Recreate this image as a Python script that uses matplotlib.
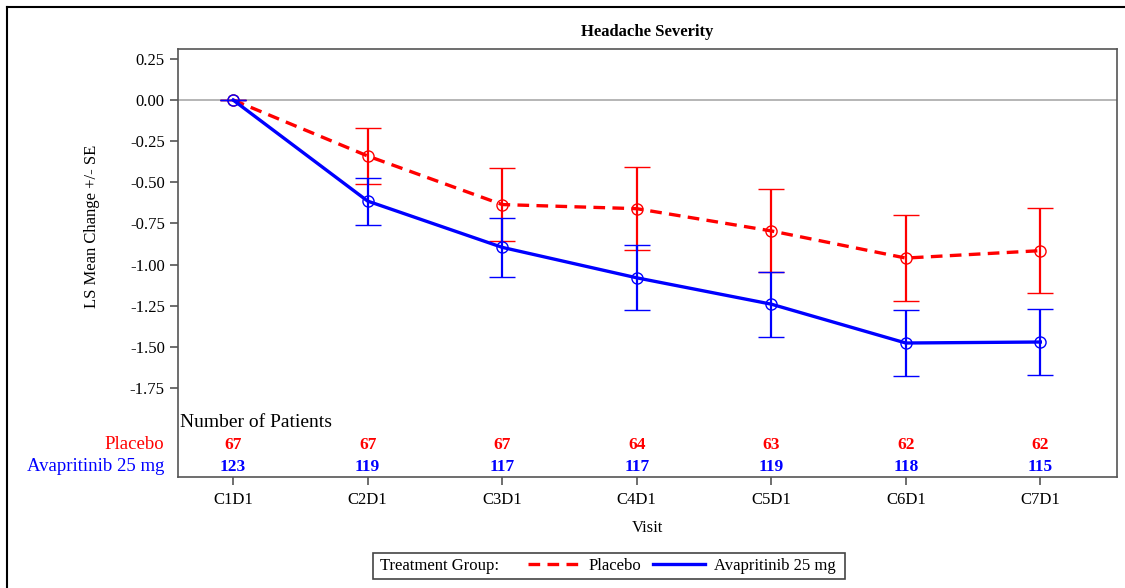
import matplotlib
matplotlib.use('Agg')
import matplotlib.pyplot as plt
import matplotlib.transforms as mtransforms
from matplotlib.lines import Line2D
from matplotlib.patches import Rectangle

plt.rcParams['font.family'] = ['Liberation Serif', 'DejaVu Serif']

# data
visits = ['C1D1', 'C2D1', 'C3D1', 'C4D1', 'C5D1', 'C6D1', 'C7D1']
placebo_mean = [0.0, -0.34, -0.635, -0.66, -0.795, -0.96, -0.915]
placebo_se = [0.0, 0.173, 0.222, 0.251, 0.252, 0.26, 0.258]
ava_mean = [0.0, -0.614, -0.895, -1.08, -1.24, -1.476, -1.47]
ava_se = [0.0, 0.143, 0.18, 0.198, 0.197, 0.2, 0.2]
placebo_n = [67, 67, 67, 64, 63, 62, 62]
ava_n = [123, 119, 117, 117, 119, 118, 115]
yticks = [0.25, 0.0, -0.25, -0.5, -0.75, -1.0, -1.25, -1.5, -1.75]

RED = '#ff0000'
BLUE = '#0000ff'
SPINE = '#555555'

fig = plt.figure(figsize=(11.25, 5.88), dpi=100)
ax = fig.add_axes([178 / 1125, 1 - 477 / 588, 939 / 1125, 428 / 588])

x = list(range(len(visits)))

ax.axhline(0, color='#b0b0b0', lw=1.3, zorder=1)

ax.errorbar(x, placebo_mean, yerr=placebo_se, color=RED, lw=2.4, ls=(0, (3.5, 2.2)),
            marker='o', ms=8, mfc='none', mec=RED, mew=1.0,
            ecolor=RED, elinewidth=1.6, capsize=9.5, capthick=1.9, zorder=3)
ax.errorbar(x, ava_mean, yerr=ava_se, color=BLUE, lw=2.4, ls='-',
            marker='o', ms=8, mfc='none', mec=BLUE, mew=1.0,
            ecolor=BLUE, elinewidth=1.6, capsize=9.5, capthick=1.9, zorder=4)

ax.set_xlim(-0.41, 6.57)
ax.set_ylim(-2.29, 0.31)
ax.set_xticks(x)
ax.set_xticklabels(visits)
ax.set_yticks(yticks)
ax.set_yticklabels([f'{v:.2f}' for v in yticks])
ax.tick_params(axis='both', labelsize=12, color=SPINE, width=1.2, direction='out')
ax.tick_params(axis='y', length=6, pad=3.5)
ax.tick_params(axis='x', length=5.5, pad=5)
for s in ax.spines.values():
    s.set_color(SPINE)
    s.set_linewidth(1.2)

ax.set_title('Headache Severity', fontsize=12, fontweight='bold', pad=9)
ax.set_ylabel('LS Mean Change +/- SE', fontsize=12)
ax.yaxis.set_label_coords(-0.083, 0.586)
ax.set_xlabel('Visit', fontsize=12)
ax.xaxis.set_label_coords(0.5, -0.1)

# number of patients table inside the axes
trans = mtransforms.blended_transform_factory(ax.transData, ax.transAxes)
ax.text(0.002, 0.128, 'Number of Patients', transform=ax.transAxes,
        fontsize=14, ha='left', va='center')
ax.text(-0.0149, 0.0748, 'Placebo', transform=ax.transAxes, color=RED,
        fontsize=13.5, ha='right', va='center')
ax.text(-0.0149, 0.0234, 'Avapritinib 25 mg', transform=ax.transAxes, color=BLUE,
        fontsize=13.5, ha='right', va='center')
for xi, n1, n2 in zip(x, placebo_n, ava_n):
    ax.text(xi, 0.0748, str(n1), transform=trans, color=RED, fontsize=12.5,
            fontweight='bold', ha='center', va='center')
    ax.text(xi, 0.0234, str(n2), transform=trans, color=BLUE, fontsize=12.5,
            fontweight='bold', ha='center', va='center')

# legend: frame, label, and entries
fig.patches.append(Rectangle((373 / 1125, 1 - 579 / 588), (845 - 373) / 1125, 26 / 588,
                             transform=fig.transFigure, fill=False,
                             edgecolor='#444444', lw=1.2))
fig.text(380 / 1125, 1 - 566 / 588, 'Treatment Group:', fontsize=12,
         ha='left', va='center')
handles = [Line2D([], [], color=RED, lw=2.4, ls=(0, (3.5, 2.2))),
           Line2D([], [], color=BLUE, lw=2.4)]
fig.legend(handles, ['Placebo', 'Avapritinib 25 mg'], ncol=2, frameon=False,
           loc='center left', bbox_to_anchor=(528 / 1125, 1 - 566 / 588),
           borderpad=0, borderaxespad=0, fontsize=12, handlelength=3.1,
           handletextpad=0.55, columnspacing=0.7)

# outer frame (top and left edges visible)
fig.add_artist(Line2D([7 / 1125, 1.0], [1 - 7 / 588, 1 - 7 / 588],
                      transform=fig.transFigure, color='black', lw=1.5))
fig.add_artist(Line2D([7 / 1125, 7 / 1125], [0.0, 1 - 7 / 588],
                      transform=fig.transFigure, color='black', lw=1.5))

fig.savefig('out.png', dpi=100)
